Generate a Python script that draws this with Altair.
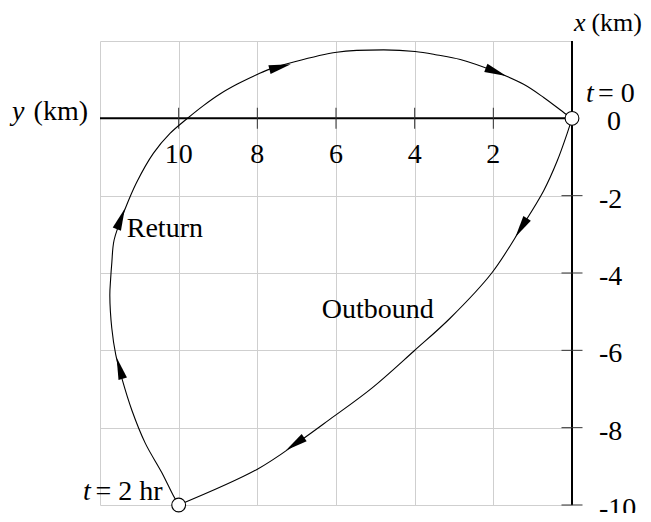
import altair as alt
import numpy as np
import pandas as pd

FONT = "Liberation Serif"
FS = 28
W, H = 472, 464

# grid values (km)
grid_y = [0, 2, 4, 6, 8, 10, 12]
grid_x = [-10, -8, -6, -4, -2, 0, 2]

# axis tick values and labels
y_tick_vals = [2, 4, 6, 8, 10]
y_tick_text = ["2", "4", "6", "8", "10"]
x_tick_vals = [-2, -4, -6, -8, -10]
x_tick_text = ["-2", "-4", "-6", "-8", "-10"]

# outbound leg (y km, x km), t = 0 -> 2 hr
out_y = [0.00, 0.11, 0.38, 0.72, 1.29, 2.04, 3.10, 4.01, 5.08, 6.15, 6.91, 8.01, 10.00]
out_x = [0.00, -0.35, -1.11, -1.87, -2.83, -4.00, -5.17, -6.01, -6.97, -7.78, -8.34, -9.08, -10.00]

# return leg (y km, x km), t = 2 hr -> back to start
ret_y = [10.00, 10.14, 10.43, 10.85, 11.19, 11.44, 11.60, 11.70, 11.75, 11.73, 11.70, 11.64, 11.36,
         11.07, 10.64, 10.22, 9.79, 9.37, 8.95, 8.52, 8.10, 7.72, 7.17, 5.98, 4.79, 3.99, 3.43,
         2.84, 1.93, 1.23, 0.72, 0.17, 0.00]
ret_x = [-10.00, -9.75, -9.16, -8.40, -7.55, -6.74, -6.11, -5.43, -4.58, -4.16, -3.74, -3.14, -2.34,
         -1.66, -0.90, -0.39, -0.01, 0.33, 0.63, 0.88, 1.09, 1.26, 1.43, 1.71, 1.77, 1.73, 1.64,
         1.52, 1.20, 0.88, 0.54, 0.12, 0.00]

# arrowheads along the path
arrow_y = [7.42, 1.93, 1.29, 7.04, 11.50, 11.47]
arrow_x = [1.33, 1.20, -2.83, -8.42, -6.46, -2.60]
arrow_leg = ["ret", "ret", "out", "out", "ret", "ret"]

# endpoints
end_y = [0, 10]
end_x = [0, -10]

# annotations (y km, x km, text)
ann_return = (11.32, -3.06, "Return")
ann_outbound = (6.36, -5.17, "Outbound")

# ---------------------------------------------------------------
xs = alt.Scale(domain=[0, 12], reverse=True, nice=False, zero=False)
ys = alt.Scale(domain=[-10, 2], nice=False, zero=False)


def X(field="y"):
    return alt.X(f"{field}:Q", scale=xs,
                 axis=alt.Axis(values=grid_y, grid=True, labels=False, ticks=False,
                               domain=False, title=None))


def Y(field="x"):
    return alt.Y(f"{field}:Q", scale=ys,
                 axis=alt.Axis(values=grid_x, grid=True, labels=False, ticks=False,
                               domain=False, title=None))


path_df = pd.concat([
    pd.DataFrame({"y": out_y, "x": out_x, "leg": "out", "i": range(len(out_y))}),
    pd.DataFrame({"y": ret_y, "x": ret_x, "leg": "ret", "i": range(len(ret_y))}),
], ignore_index=True)

# arrow direction from the local tangent of its leg (in screen space)
sx, sy = W / 12.0, H / 12.0
legs = {"out": np.column_stack([out_y, out_x]), "ret": np.column_stack([ret_y, ret_x])}
angles = []
for ay, ax, lg in zip(arrow_y, arrow_x, arrow_leg):
    P = legs[lg]
    k = int(np.argmin(np.hypot(P[:, 0] - ay, P[:, 1] - ax)))
    a = P[max(k - 1, 0)]
    b = P[min(k + 1, len(P) - 1)]
    dy, dx = b[0] - a[0], b[1] - a[1]
    angles.append(float(np.degrees(np.arctan2(-dy * sx, dx * sy)) % 360))
arrow_df = pd.DataFrame({"y": arrow_y, "x": arrow_x, "angle": angles})

base_grid = alt.Chart(path_df).mark_line(opacity=0).encode(x=X(), y=Y(), detail="leg:N")

h_axis = alt.Chart(pd.DataFrame({"y": [12], "y2": [0], "x": [0]})).mark_rule(
    color="black", strokeWidth=2).encode(x=X(), x2="y2:Q", y=Y())
v_axis = alt.Chart(pd.DataFrame({"y": [0], "x": [2], "x2": [-10]})).mark_rule(
    color="black", strokeWidth=2).encode(x=X(), y=Y(), y2="x2:Q")

h_ticks = alt.Chart(pd.DataFrame({"y": y_tick_vals, "x": 0})).mark_tick(
    orient="vertical", size=21, thickness=1, color="#333333", opacity=1).encode(x=X(), y=Y())
v_ticks = alt.Chart(pd.DataFrame({"y": 0, "x": x_tick_vals})).mark_tick(
    orient="horizontal", size=21, thickness=1, color="#333333", opacity=1).encode(x=X(), y=Y())

curve = alt.Chart(path_df).mark_line(
    color="black", strokeWidth=1.1, interpolate="catmull-rom").encode(
    x=X(), y=Y(), detail="leg:N", order="i:Q")

arrows = alt.Chart(arrow_df).mark_point(
    shape="M0,-1L0.4,1L-0.4,1Z", filled=True, color="black", size=484, opacity=1).encode(
    x=X(), y=Y(), angle=alt.Angle("angle:Q", scale=None))

ends = alt.Chart(pd.DataFrame({"y": end_y, "x": end_x})).mark_point(
    shape="circle", filled=True, fill="white", stroke="black", strokeWidth=1.1,
    size=190, opacity=1).encode(x=X(), y=Y())


def text_layer(yv, xv, labels, **props):
    df = pd.DataFrame({"y": yv, "x": xv, "label": labels})
    opts = dict(font=FONT, fontSize=FS, color="black", baseline="alphabetic", align="left")
    opts.update(props)
    return alt.Chart(df).mark_text(**opts).encode(x=X(), y=Y(), text="label:N")


texts = [
    text_layer(y_tick_vals, [0] * 5, y_tick_text, align="center", dy=45),
    text_layer([0] * 5, x_tick_vals, x_tick_text, dx=27, dy=12),
    text_layer([0], [0], ["0"], dx=35, dy=12),
    text_layer([0], [0], ["t"], fontStyle="italic", dx=14, dy=-16),
    text_layer([0], [0], ["= 0"], dx=26, dy=-16),
    text_layer([0], [2], ["x"], fontStyle="italic", fontSize=26, dx=2, dy=-10),
    text_layer([0], [2], ["(km)"], fontSize=26, align="right", dx=70, dy=-10),
    text_layer([12], [0], ["y"], fontStyle="italic", dx=-88, dy=2),
    text_layer([12], [0], ["(km)"], align="right", dx=-12, dy=2),
    text_layer([10], [-10], ["t"], fontStyle="italic", align="right", dx=-88, dy=-5),
    text_layer([10], [-10], ["= 2 hr"], align="right", dx=-16, dy=-5),
    text_layer([ann_return[0]], [ann_return[1]], [ann_return[2]]),
    text_layer([ann_outbound[0]], [ann_outbound[1]], [ann_outbound[2]]),
]

chart = alt.layer(
    base_grid, h_axis, v_axis, h_ticks, v_ticks, curve, arrows, ends, *texts
).properties(
    width=W, height=H,
    autosize=alt.AutoSizeParams(type="none"),
    padding={"left": 92, "top": 33, "right": 71, "bottom": 8},
    background="white",
).configure_view(strokeWidth=0).configure_axis(
    gridColor="#cfcfcf", gridWidth=1, gridOpacity=1
)

chart.save("out.html", embed_options={"renderer": "svg", "actions": False})
